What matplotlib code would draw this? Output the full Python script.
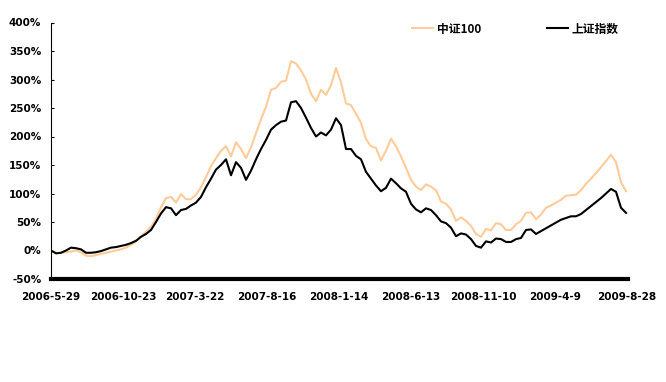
import matplotlib
matplotlib.use('Agg')
import matplotlib.pyplot as plt
import numpy as np

# cumulative return (%), evenly spaced samples 2006-5-29 .. 2009-8-28
csi100 = [0, -4, -4, -3, -2, 0, -3, -9, -10, -8, -6, -4, -2, 0, 2, 5, 10, 16, 25, 33,
          42, 55, 76, 92, 94, 84, 99, 90, 90, 98, 111, 129, 148, 162, 175, 183, 165, 190, 178, 162,
          181, 206, 230, 252, 282, 285, 296, 298, 332, 328, 316, 300, 275, 262, 282, 273, 290, 320, 295, 258,
          255, 240, 224, 195, 183, 180, 158, 175, 196, 183, 165, 145, 124, 112, 106, 116, 112, 106, 86, 82,
          72, 52, 58, 52, 43, 29, 24, 38, 35, 48, 46, 36, 36, 46, 52, 66, 67, 55, 63, 75,
          79, 84, 89, 96, 97, 98, 106, 117, 126, 136, 146, 157, 168, 155, 120, 104]
shanghai = [0, -5, -4, 0, 5, 4, 2, -4, -4, -3, -1, 2, 5, 6, 8, 10, 13, 17, 24, 29,
            36, 50, 65, 76, 74, 62, 71, 73, 79, 84, 94, 111, 126, 142, 150, 160, 132, 155, 145, 124,
            140, 160, 178, 194, 212, 220, 226, 228, 260, 262, 250, 233, 215, 200, 207, 202, 212, 232, 220, 178,
            178, 166, 160, 138, 126, 114, 104, 110, 126, 118, 109, 103, 82, 72, 67, 74, 71, 62, 51, 48,
            40, 25, 30, 28, 20, 8, 5, 16, 14, 21, 20, 15, 15, 20, 22, 36, 37, 29, 34, 39,
            44, 49, 54, 57, 60, 60, 64, 71, 78, 85, 92, 100, 108, 103, 75, 66]
date_labels = ['2006-5-29', '2006-10-23', '2007-3-22', '2007-8-16', '2008-1-14',
               '2008-6-13', '2008-11-10', '2009-4-9', '2009-8-28']
yticks = list(range(-50, 401, 50))

fig = plt.figure(figsize=(6.66, 3.82), dpi=100)
ax = fig.add_axes([51/666, 1 - 279/382, (628 - 51)/666, (279 - 22.5)/382])

x = np.arange(len(csi100))
ax.plot(x, csi100, color='#FFCC99', lw=1.5, label='中证100')
ax.plot(x, shanghai, color='black', lw=1.5, label='上证指数')

ax.set_xlim(0, len(csi100) - 0.6)
ax.set_ylim(-50, 400)
ax.set_yticks(yticks)
ax.set_yticklabels([f'{v}%' for v in yticks], fontsize=7.5, fontweight='bold')
ax.set_xticks(np.linspace(0, len(csi100) - 0.8, len(date_labels)))
ax.set_xticklabels(date_labels, fontsize=7.5, fontweight='bold')
ax.tick_params(axis='x', length=0, pad=9)
ax.tick_params(axis='y', length=2, direction='in', pad=7, width=0.8)

for s in ['top', 'right']:
    ax.spines[s].set_visible(False)
ax.spines['left'].set_linewidth(0.8)
ax.spines['bottom'].set_linewidth(3)

leg = fig.legend(loc='center left', bbox_to_anchor=(412/666, 1 - 29/382), ncol=2,
                 frameon=False, borderpad=0, borderaxespad=0, handlelength=1.8,
                 handletextpad=0.3, columnspacing=5.6,
                 prop={'family': ['Noto Sans CJK SC', 'DejaVu Sans'], 'weight': 'bold', 'size': 8.5})

fig.savefig('out.png', dpi=100)
